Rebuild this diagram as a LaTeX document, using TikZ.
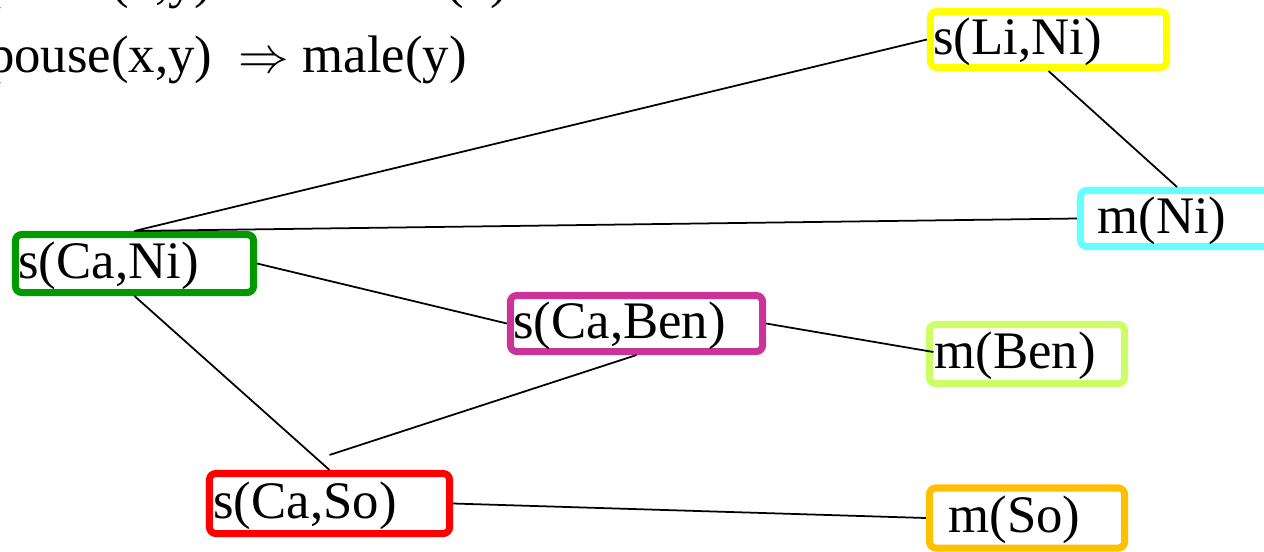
\documentclass[tikz,border=0pt]{standalone}
\usepackage{fontspec}
\setmainfont{Liberation Serif}
\begin{document}
\begin{tikzpicture}[x=0.01cm,y=-0.01cm,
  lbl/.style={font=\fontsize{15}{18}\selectfont},
  term/.style={lbl, draw=#1, line width=2pt, rounded corners=1.8pt,
    align=left, inner ysep=0pt, text height=11pt, text depth=2.6pt},
  link/.style={draw=black, line width=0.5pt}]
\useasboundingbox (0,0) rectangle (1264,551);
\clip (0,0) rectangle (1264,551);

% rules (partly outside the frame)
\node[lbl, anchor=base west, inner sep=0pt] (rule1) at (-33,-3) {spouse(x,y)~~$\Rightarrow$ female(x)};
\node[lbl, anchor=base west, inner sep=0pt] (rule2) at (-33,72) {spouse(x,y)~~$\Rightarrow$ male(y)};

% colours
\definecolor{cYel}{HTML}{FFFF00}
\definecolor{cCya}{HTML}{66FFFF}
\definecolor{cGrn}{HTML}{009900}
\definecolor{cMag}{HTML}{CC3399}
\definecolor{cLim}{HTML}{CCFF66}
\definecolor{cRed}{HTML}{FF0000}
\definecolor{cAmb}{HTML}{FFC000}

% terms: width W, height H, left pad L -> text width W-2L, inner xsep L
\node[term=cYel, text width=2.30cm, inner xsep=0.03cm, minimum height=0.56cm] (sLN) at (1048.5,39.5) {s(Li,Ni)};
\node[term=cCya, text width=1.59cm, inner xsep=0.17cm, minimum height=0.56cm] (mNi) at (1177,218.5) {m(Ni)};
\node[term=cGrn, text width=2.32cm, inner xsep=0.03cm, minimum height=0.58cm] (sCN) at (134.5,263.5) {s(Ca,Ni)};
\node[term=cMag, text width=2.46cm, inner xsep=0.03cm, minimum height=0.56cm] (sCB) at (636.5,323.5) {s(Ca,Ben)};
\node[term=cLim, text width=1.85cm, inner xsep=0.05cm, minimum height=0.59cm] (mBen) at (1027,354) {m(Ben)};
\node[term=cRed, text width=2.32cm, inner xsep=0.04cm, minimum height=0.60cm] (sCS) at (329.5,503.5) {s(Ca,So)};
\node[term=cAmb, text width=1.57cm, inner xsep=0.19cm, minimum height=0.60cm] (mSo) at (1027,518) {m(So)};

% links
\draw[link] (sCN.north) -- (sLN.west);
\draw[link] (sCN.north) -- (mNi.west);
\draw[link] (sLN.south) -- (mNi.north);
\draw[link] (sCN.east) -- (sCB.west);
\draw[link] (sCN.south) -- (sCS.north);
\draw[link] ([yshift=0.15cm]sCS.north) -- (sCB.south);
\draw[link] (sCB.east) -- ([xshift=0.075cm,yshift=0.02cm]mBen.west);
\draw[link] (sCS.east) -- (mSo.west);
\end{tikzpicture}
\end{document}
